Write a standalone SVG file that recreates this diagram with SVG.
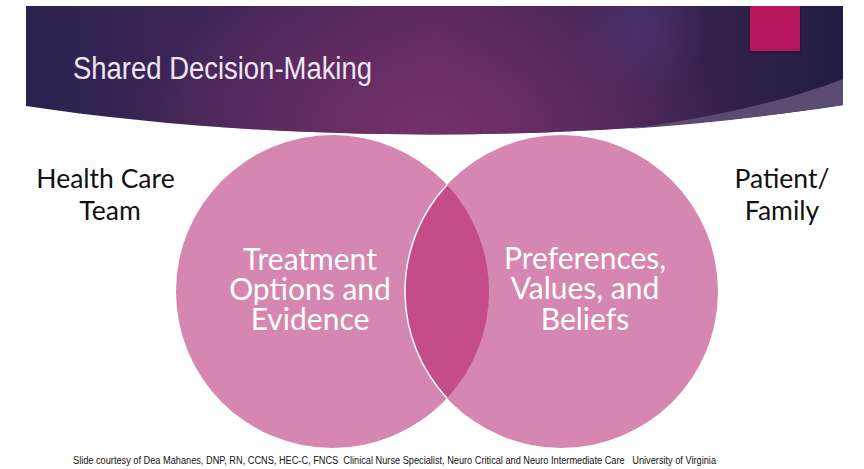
<svg xmlns="http://www.w3.org/2000/svg" width="864" height="469" viewBox="0 0 864 469">
  <defs>
    <linearGradient id="bandBase" x1="26" y1="0" x2="843" y2="0" gradientUnits="userSpaceOnUse">
      <stop offset="0" stop-color="#2B2250"/>
      <stop offset="0.5" stop-color="#5A2A5E"/>
      <stop offset="1" stop-color="#221C43"/>
    </linearGradient>
    <radialGradient id="bandGlow" cx="430" cy="125" r="300" gradientTransform="translate(430 125) scale(1 0.5) translate(-430 -125)" gradientUnits="userSpaceOnUse">
      <stop offset="0" stop-color="#74306A" stop-opacity="0.95"/>
      <stop offset="1" stop-color="#74306A" stop-opacity="0"/>
    </radialGradient>
    <radialGradient id="bandSpot" cx="640" cy="28" r="70" gradientUnits="userSpaceOnUse">
      <stop offset="0" stop-color="#4C3372" stop-opacity="0.8"/>
      <stop offset="1" stop-color="#4C3372" stop-opacity="0"/>
    </radialGradient>
    <filter id="tileShadow" x="-20%" y="-20%" width="140%" height="150%">
      <feDropShadow dx="0" dy="1.5" stdDeviation="1.2" flood-color="#000" flood-opacity="0.45"/>
    </filter>
    <style>
      .circle { fill: #D687B1; }
      .lens { fill: #C44C89; }
      .seam { fill: none; stroke: #FFFFFF; stroke-width: 1.5; }
      .inner { font-family: Lato, "Open Sans", "DejaVu Sans", sans-serif; font-size: 30px; fill: #FFFFFF; text-anchor: middle; }
      .side { font-family: Lato, "Open Sans", "DejaVu Sans", sans-serif; font-size: 26.5px; fill: #111111; text-anchor: middle; }
      .title { font-family: "Liberation Sans", Arial, sans-serif; font-size: 31px; fill: #EEE7F1; }
      .credit { font-family: "Liberation Sans", Arial, sans-serif; font-size: 10px; fill: #111111; white-space: pre; }
    </style>
  </defs>

  <rect width="864" height="469" fill="#FFFFFF"/>

  <!-- title band with curved lower edge -->
  <g id="header">
    <path d="M26 6 H843 V105 C560 148 250 140 26 106 Z" fill="url(#bandBase)"/>
    <path d="M26 6 H843 V105 C560 148 250 140 26 106 Z" fill="url(#bandGlow)"/>
    <path d="M26 6 H843 V105 C560 148 250 140 26 106 Z" fill="url(#bandSpot)"/>
    <!-- lighter sweep at the lower right -->
    <path d="M628 129 C710 118 790 100 843 79 V105 C780 115 700 124 628 129 Z" fill="#5B4A72"/>
    <rect x="750" y="6" width="50" height="45" fill="#B7145F" filter="url(#tileShadow)"/>
    <text class="title" x="73" y="79" textLength="299" lengthAdjust="spacingAndGlyphs">Shared Decision-Making</text>
  </g>

  <!-- left set -->
  <g id="node-treatment">
    <circle class="circle" cx="332.5" cy="291.5" r="156.5"/>
  </g>

  <!-- right set -->
  <g id="node-preferences">
    <circle class="circle" cx="561.5" cy="291.5" r="156.5"/>
  </g>

  <!-- overlap of the two sets -->
  <g id="node-overlap">
    <path class="lens" d="M447 184.8 A156.5 156.5 0 0 0 447 398.2 A156.5 156.5 0 0 0 447 184.8 Z"/>
    <path class="seam" d="M447 184.8 A156.5 156.5 0 0 0 447 398.2"/>
  </g>

  <!-- set labels -->
  <g id="label-treatment">
    <text class="inner"><tspan x="310" y="270">Treatment</tspan><tspan x="310" y="300">Options and</tspan><tspan x="310" y="329.5">Evidence</tspan></text>
  </g>
  <g id="label-preferences">
    <text class="inner"><tspan x="585" y="269">Preferences,</tspan><tspan x="585" y="299">Values, and</tspan><tspan x="585" y="329.5">Beliefs</tspan></text>
  </g>

  <g id="node-team">
    <text class="side"><tspan x="105.5" y="188">Health Care</tspan><tspan x="110" y="220">Team</tspan></text>
  </g>

  <g id="node-patient">
    <text class="side"><tspan x="782" y="188">Patient/</tspan><tspan x="782" y="220">Family</tspan></text>
  </g>

  <g id="connectors"/>

  <text class="credit" xml:space="preserve" x="73" y="464" textLength="643" lengthAdjust="spacingAndGlyphs">Slide courtesy of Dea Mahanes, DNP, RN, CCNS, HEC-C, FNCS  Clinical Nurse Specialist, Neuro Critical and Neuro Intermediate Care   University of Virginia</text>
</svg>
